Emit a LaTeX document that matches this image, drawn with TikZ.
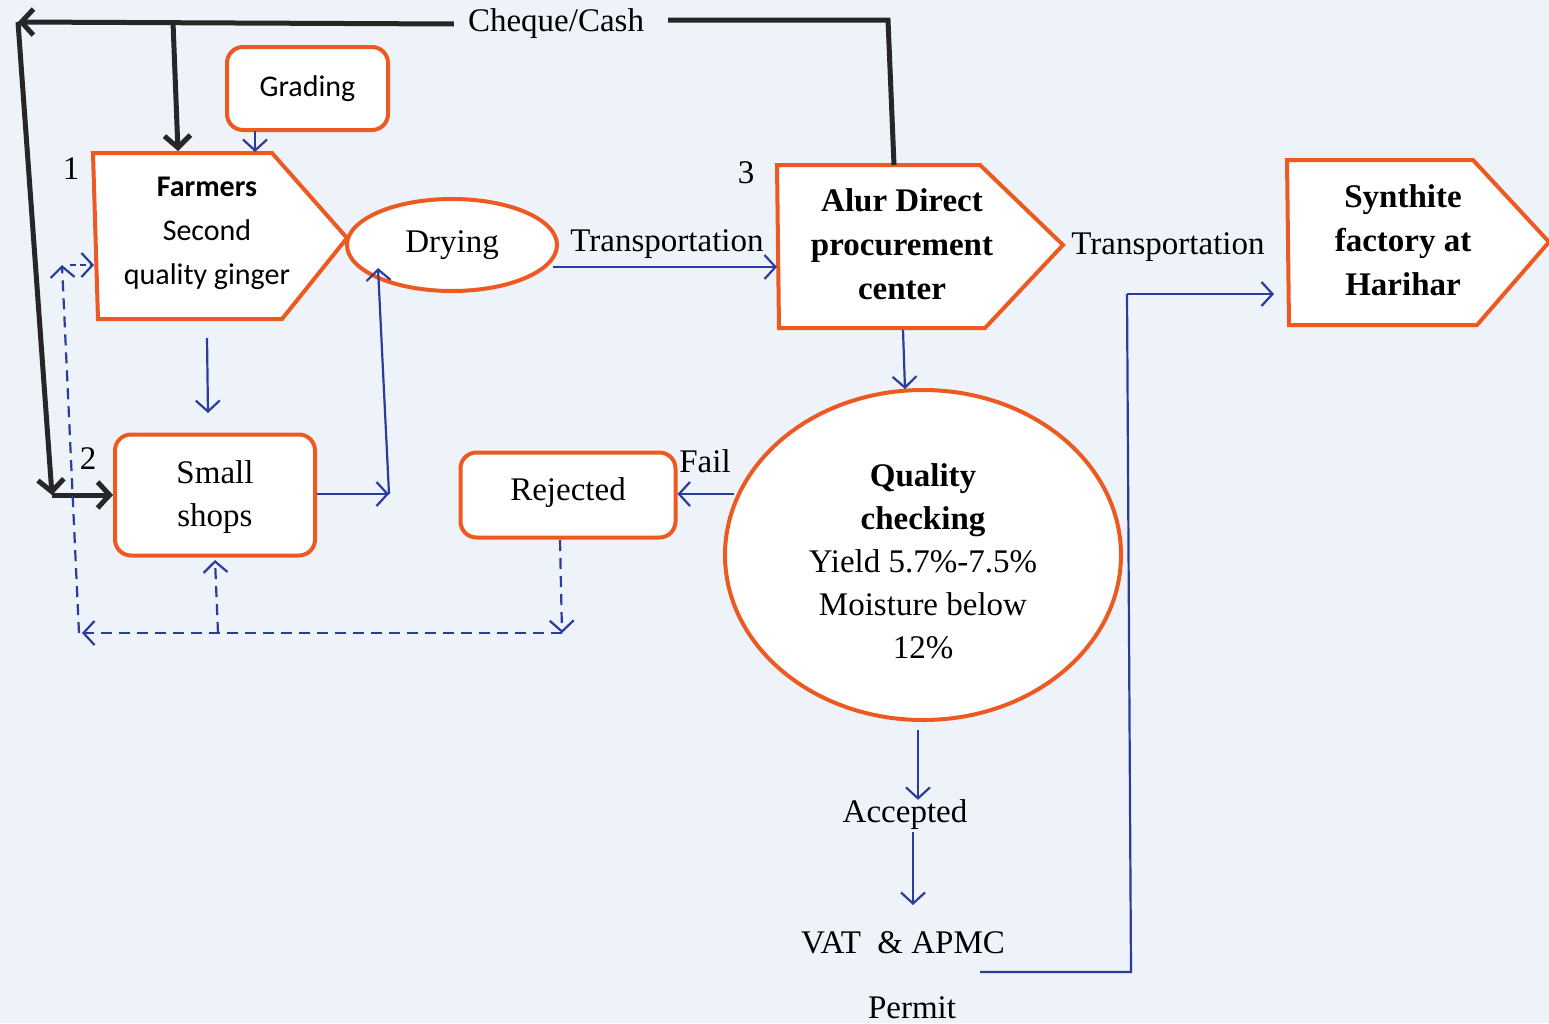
\documentclass[tikz,border=0pt]{standalone}
\usepackage{fontspec}
\setmainfont{Liberation Serif}
\newfontfamily\calib{Carlito}
\usetikzlibrary{arrows.meta,shapes.geometric}
\definecolor{bgc}{HTML}{EEF2F9}
\definecolor{org}{HTML}{EC5A22}
\definecolor{blu}{HTML}{2B3D9B}
\definecolor{blk}{HTML}{262626}
\begin{document}
\begin{tikzpicture}[x=1pt,y=-1pt,
  tm/.style={font=\fontsize{33}{43}\selectfont, align=center},
  tmb/.style={font=\fontsize{33}{44}\selectfont\bfseries, align=center},
  cb/.style={font=\calib\fontsize{30}{44}\selectfont, align=center},
  obox/.style={draw=org, line width=4, fill=white, rounded corners=16, inner sep=0},
  oshape/.style={draw=org, line width=4, fill=white, line join=miter},
  oell/.style={draw=org, line width=4, fill=white, ellipse, inner sep=0},
  blkarrow/.style={draw=blk, line width=5, -{Straight Barb[length=12,width=26]}},
  blkline/.style={draw=blk, line width=5},
  blarrow/.style={draw=blu, line width=2.2, -{Straight Barb[length=11,width=24]}},
  bldash/.style={blarrow, dash pattern=on 11 off 7},
  bllinestyle/.style={draw=blu, line width=2.2}
]
\fill[bgc] (0,0) rectangle (1549,1023);
\useasboundingbox (0,0) rectangle (1549,1023);

% ---------- shapes ----------
\node[obox, minimum width=161, minimum height=83] (grading) at (307.5,88.5) {\calib\fontsize{30}{36}\selectfont Grading};

\draw[oshape] (93,153) -- (272,153) -- (347,238) -- (282,319) -- (98,319) -- cycle;
\node[cb] (farmers) at (207,233) {\textbf{Farmers}\\Second\\quality ginger};

\node[oell, minimum width=210, minimum height=92] (dry) at (452,245) {};
\node[tm] (drytext) at (452,245) {Drying};

\draw[oshape] (777,165) -- (980,165) -- (1063,245) -- (985,328) -- (779,328) -- cycle;
\node[tmb] (alur) at (902,244) {Alur Direct\\procurement\\center};

\draw[oshape] (1287,160) -- (1473,160) -- (1549,242) -- (1477,325) -- (1289,325) -- cycle;
\node[tmb] (synth) at (1403,240) {Synthite\\factory at\\Harihar};

\node[obox, minimum width=200, minimum height=121] (shops) at (215,495) {};
\node[tm] (shopstext) at (215,497) {Small\\shops};

\node[obox, minimum width=215, minimum height=85] (rej) at (568,495) {};
\node[tm] (rejtext) at (568,493) {Rejected};

\node[oell, minimum width=396, minimum height=330] (qual) at (923,555) {};
\node[tm] (qualtext) at (923,561) {\textbf{Quality}\\\textbf{checking}\\Yield 5.7\%-7.5\%\\Moisture below\\12\%};

% ---------- labels ----------
\node[tm, inner xsep=14, inner ysep=2] (cash) at (556,24) {Cheque/Cash};
\node[tm] (n1) at (71,169) {1};
\node[tm] (n2) at (88,459) {2};
\node[tm] (n3) at (746,173) {3};
\node[tm] (tr1) at (667,244) {Transportation};
\node[tm] (tr2) at (1168,247) {Transportation};
\node[tm] (fail) at (705,461) {Fail};
\node[tm, inner sep=0] (acc) at (905,815) {Accepted};
\node[tm] (vat) at (903,943) {VAT \ \& APMC};
\node[tm] (permit) at (912,1008) {Permit};

% ---------- coordinates ----------
\coordinate (tl) at (18,22);
\coordinate (blc) at (52,495);
\coordinate (tap) at (173,22);
\coordinate (farmtop) at (178,151);
\coordinate (alurtop) at (894,165);
\coordinate (cashcorner) at (888,20);
\coordinate (cashright) at (668,20);
\coordinate (gradout) at (255,131);
\coordinate (farmtop2) at (255,152);
\coordinate (farmout) at (207,338);
\coordinate (shopsin) at (208,413);
\coordinate (shopscorner) at (389,494);
\coordinate (drybottom) at (378,268);
\coordinate (dryout) at (553,267);
\coordinate (alurin) at (777,267);
\coordinate (alurout) at (903,330);
\coordinate (qualin) at (905,389);
\coordinate (qualfail) at (734,494);
\coordinate (qualout) at (918,730);
\coordinate (accout) at (913,832);
\coordinate (vatin) at (913,905);
\coordinate (vatout) at (980,972);
\coordinate (vc1) at (1131,972);
\coordinate (vc2) at (1127,294);
\coordinate (synthin) at (1274,294);
\coordinate (rejout) at (560,540);
\coordinate (rejcorner) at (562,633);
\coordinate (leftcorner) at (82,633);
\coordinate (shopscorner2) at (218,633);
\coordinate (leftbottom) at (79,633);
\coordinate (lefttop) at (62,265);
\coordinate (leftstart) at (70,265);
\coordinate (farmleft) at (94,265);

% ---------- black connectors ----------
\draw[blkline] (alurtop) -- (cashcorner) -- (cashright);
\draw[blkarrow] (cash.west) -- (tl);
\draw[blkarrow] (tap) -- (farmtop);
\draw[blkarrow] (tl) -- (blc);
\draw[blkarrow] (blc) -- (shops.west);

% ---------- blue connectors ----------
\draw[blarrow] (gradout) -- (farmtop2);
\draw[blarrow] (farmout) -- (shopsin);
\draw[blarrow] (shops.east |- shopscorner) -- (shopscorner);
\draw[blarrow] (shopscorner) -- (drybottom);
\draw[blarrow] (dryout) -- (alurin);
\draw[blarrow] (alurout) -- (qualin);
\draw[blarrow] (qualfail) -- (rej.east |- qualfail);
\draw[blarrow] (qualout) -- (acc.north -| qualout);
\draw[blarrow] (accout) -- (vatin);
\draw[bllinestyle] (vatout) -- (vc1) -- (vc2);
\draw[blarrow] (vc2) -- (synthin);

% ---------- dashed connectors ----------
\draw[bldash] (rejout) -- (rejcorner);
\draw[bldash] (rejcorner) -- (leftcorner);
\draw[bldash] (shopscorner2) -- (shops.south |- 0,560);
\draw[bldash] (leftbottom) -- (lefttop);
\draw[blarrow, dash pattern=on 6 off 4] (leftstart) -- (farmleft);
\end{tikzpicture}
\end{document}
